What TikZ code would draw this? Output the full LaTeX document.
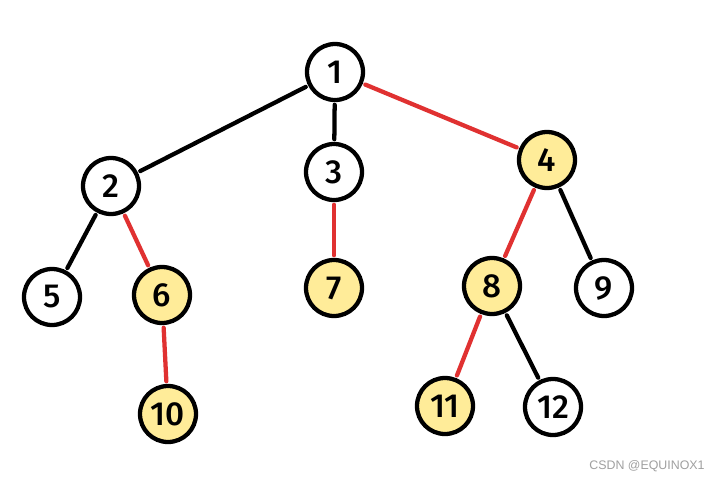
\documentclass[tikz,border=0pt]{standalone}
\usepackage{fontspec}
\setmainfont{Fira Sans}
\newfontfamily\digitfont{Fira Sans Medium}
\newfontfamily\wmfont{Liberation Sans}
\definecolor{nodeyellow}{HTML}{FFEC99}
\definecolor{edgered}{HTML}{E03131}
\definecolor{wmgray}{HTML}{A0A0A0}
\begin{document}
\begin{tikzpicture}[x=0.75pt,y=-0.75pt,
  treenode/.style={circle,draw=black,line width=3.2pt,fill=white,minimum size=42pt,inner sep=0pt,font=\digitfont\fontsize{25}{25}\selectfont},
  marked/.style={treenode,fill=nodeyellow},
  blackedge/.style={draw=black,line width=3.2pt,line cap=round,shorten <=2pt,shorten >=2pt},
  rededge/.style={draw=edgered,line width=3.2pt,line cap=round,shorten <=2pt,shorten >=2pt}]
\useasboundingbox[fill=white] (0,0) rectangle (719,482);
\node[treenode] (n1) at (335,72) {1};
\node[treenode] (n2) at (111,186) {2};
\node[treenode] (n3) at (334,172) {3};
\node[marked] (n4) at (547,160) {4};
\node[treenode] (n5) at (52,297) {5};
\node[marked] (n6) at (162,295) {6};
\node[marked] (n7) at (334,288) {7};
\node[marked] (n8) at (492,286) {8};
\node[treenode] (n9) at (604,288) {9};
\node[marked] (n10) at (168,414) {10};
\node[marked] (n11) at (445,406) {11};
\node[treenode] (n12) at (553,407) {12};
\draw[blackedge] (n1) -- (n2);
\draw[blackedge] (n1) -- (n3);
\draw[rededge] (n1) -- (n4);
\draw[blackedge] (n2) -- (n5);
\draw[rededge] (n2) -- (n6);
\draw[rededge] (n3) -- (n7);
\draw[rededge] (n4) -- (n8);
\draw[blackedge] (n4) -- (n9);
\draw[rededge] (n6) -- (n10);
\draw[rededge] (n8) -- (n11);
\draw[blackedge] (n8) -- (n12);
\node[text=wmgray,font=\wmfont\fontsize{9.3}{9.3}\selectfont] (wm) at (647,466) {CSDN @EQUINOX1};
\end{tikzpicture}
\end{document}
